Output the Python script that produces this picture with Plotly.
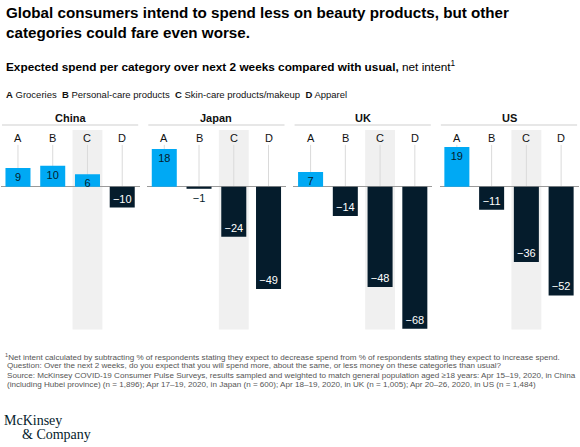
import plotly.graph_objects as go

# values (net intent, %)
countries = ["China", "Japan", "UK", "US"]
categories = ["A", "B", "C", "D"]
china = [9, 10, 6, -10]
japan = [18, -1, -24, -49]
uk = [7, -14, -48, -68]
us = [19, -11, -36, -52]
series = [china, japan, uk, us]

legend_items = [("A", "Groceries"), ("B", "Personal-care products"),
                ("C", "Skin-care products/makeup"), ("D", "Apparel")]

footnotes = [
    "<sup>1</sup>Net intent calculated by subtracting % of respondents stating they expect to decrease spend from % of respondents stating they expect to increase spend.",
    "Question: Over the next 2 weeks, do you expect that you will spend more, about the same, or less money on these categories than usual?",
    "Source: McKinsey COVID-19 Consumer Pulse Surveys, results sampled and weighted to match general population aged ≥18 years: Apr 15–19, 2020, in China",
    "(including Hubei province) (n = 1,896); Apr 17–19, 2020, in Japan (n = 600); Apr 18–19, 2020, in UK (n = 1,005); Apr 20–26, 2020, in US (n = 1,484)",
]

CYAN = "#00A9F4"
NAVY = "#051C2C"
FONT = "Liberation Sans"
W, H = 580, 447


def px(x):
    return x / W


def py(y):
    return 1 - y / H


fig = go.Figure()

panel_w = 139
for i, (name, vals) in enumerate(zip(countries, series)):
    n = "" if i == 0 else str(i + 1)
    x0 = 0.6 + 146.3 * i
    fig.add_trace(go.Bar(
        x=categories, y=vals, xaxis="x" + n, yaxis="y" + n,
        width=0.72,
        marker=dict(color=[CYAN if v > 0 else NAVY for v in vals], line_width=0),
        text=[str(v) if v > 0 else "\u2212" + str(abs(v)) for v in vals],
        textposition=["inside" if abs(v) >= 3 else "outside" for v in vals],
        insidetextanchor="end", textangle=0,
        textfont=dict(family=FONT, size=11,
                      color=[NAVY if v > 0 else ("white" if abs(v) >= 3 else NAVY) for v in vals]),
        cliponaxis=False, showlegend=False, hoverinfo="skip",
    ))
    fig.update_layout(**{
        "xaxis" + n: dict(domain=[px(x0), px(x0 + panel_w)], anchor="y" + n,
                          showticklabels=False, showgrid=False, zeroline=False,
                          fixedrange=True, range=[-0.5, 3.5]),
        "yaxis" + n: dict(domain=[py(340), py(110)], anchor="x" + n,
                          range=[-73.35, 36.7], showticklabels=False, showgrid=False,
                          zeroline=True, zerolinecolor="#9a9a9a", zerolinewidth=1),
    })
    xd = "x" + n + " domain"
    # grey band behind C
    fig.add_shape(type="rect", xref="x" + n, yref="y" + n, x0=1.57, x1=2.43,
                  y0=-68.3, y1=27.1, fillcolor="#f0f0f0", line_width=0, layer="below")
    # header rule and country name
    fig.add_shape(type="line", xref=xd, yref="paper", x0=0.01, x1=0.99,
                  y0=py(125), y1=py(125), line=dict(color="#cfcfcf", width=1))
    fig.add_annotation(text="<b>" + name + "</b>", xref=xd, yref="paper", x=0.5,
                       y=py(118), showarrow=False, xanchor="center", yanchor="middle",
                       font=dict(family=FONT, size=11, color="#111"))
    for j, c in enumerate(categories):
        fig.add_shape(type="line", xref="x" + n, yref="y" + n, x0=j, x1=j, y0=0, y1=20,
                      line=dict(color="#dadada", width=1), layer="below")
        fig.add_annotation(text=c, xref="x" + n, yref="y" + n, x=j, y=23.3,
                           showarrow=False, yanchor="middle",
                           font=dict(family=FONT, size=11, color="#111"))

# titles
fig.add_annotation(
    text="<b>Global consumers intend to spend less on beauty products, but other<br>categories could fare even worse.</b>",
    xref="paper", yref="paper", x=px(4), y=py(1.5), xanchor="left", yanchor="top",
    align="left", showarrow=False, font=dict(family=FONT, size=15.2, color="#000"))
fig.add_annotation(
    text="<b>Expected spend per category over next 2 weeks compared with usual,</b> net intent<sup>1</sup>",
    xref="paper", yref="paper", x=px(4), y=py(66.7), xanchor="left", yanchor="middle",
    showarrow=False, font=dict(family=FONT, size=11.8, color="#000"))
fig.add_annotation(
    text="  ".join("<b>" + k + "</b> " + v for k, v in legend_items),
    xref="paper", yref="paper", x=px(4), y=py(94), xanchor="left", yanchor="middle",
    showarrow=False, font=dict(family=FONT, size=9.5, color="#111"))

# footnotes
for k, line in enumerate(footnotes):
    fig.add_annotation(text=line, xref="paper", yref="paper",
                       x=px(3 if k == 0 else 5), y=py(356.7 + 9.2 * k),
                       xanchor="left", yanchor="middle", showarrow=False,
                       font=dict(family=FONT, size=8.1, color="#555"))

# logo
fig.add_annotation(text="McKinsey", xref="paper", yref="paper", x=px(2), y=py(420),
                   xanchor="left", yanchor="middle", showarrow=False,
                   font=dict(family="Liberation Serif", size=14, color=NAVY))
fig.add_annotation(text="&amp; Company", xref="paper", yref="paper", x=px(20), y=py(434.5),
                   xanchor="left", yanchor="middle", showarrow=False,
                   font=dict(family="Liberation Serif", size=14, color=NAVY))

fig.update_layout(
    width=W, height=H, margin=dict(l=0, r=0, t=0, b=0),
    paper_bgcolor="white", plot_bgcolor="rgba(0,0,0,0)",
    uniformtext=dict(minsize=11, mode="show"),
    font=dict(family=FONT),
)

# page margin off so the figure sits at the window's corner
fig.write_html("out.html", config={"displayModeBar": False},
               post_script="document.body.style.margin='0';document.body.style.overflow='hidden';")
